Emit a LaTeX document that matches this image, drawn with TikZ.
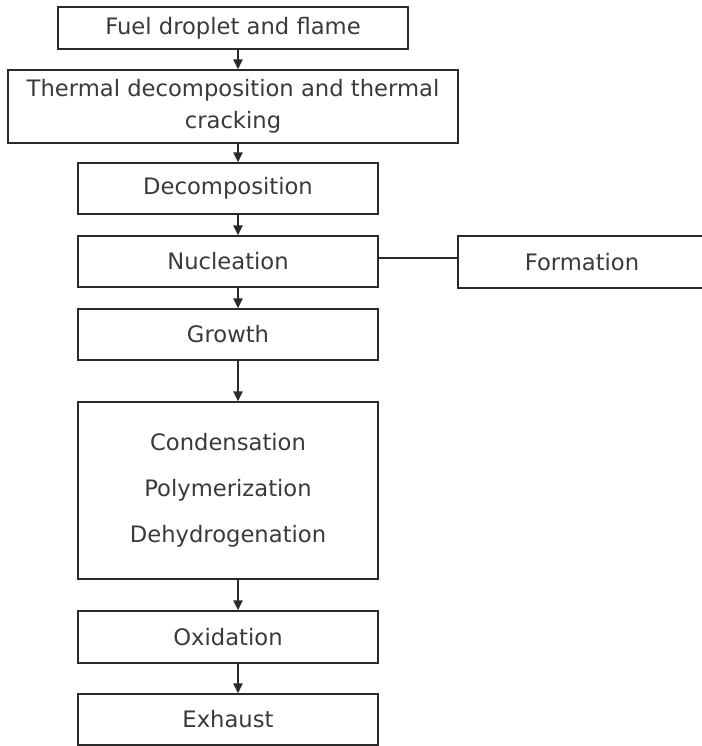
\documentclass[tikz,border=0pt]{standalone}
\usepackage{fontspec}
\setmainfont{DejaVu Sans}
\usetikzlibrary{arrows.meta}
\definecolor{linecol}{HTML}{2A2A2A}
\definecolor{txtcol}{HTML}{3A3A3A}
\begin{document}
\begin{tikzpicture}[x=0.75pt,y=-0.75pt,
  box/.style={draw=linecol, line width=1.1pt, rectangle, inner sep=0pt,
    text=txtcol, font=\fontsize{17}{24}\selectfont, align=center},
  arr/.style={draw=linecol, line width=1.1pt, -{Triangle[length=7.5pt,width=7pt]}},
  link/.style={draw=linecol, line width=1.1pt}
]
\useasboundingbox[fill=white] (0,0) rectangle (702,746);
\node[box, minimum width=262.5pt, minimum height=31.5pt] (b1) at (233,28) {Fuel droplet and flame};
\node[box, minimum width=337.5pt, minimum height=54.75pt] (b2) at (233,106.5) {Thermal decomposition and thermal\\cracking};
\node[box, minimum width=225pt, minimum height=38.25pt] (b3) at (228,188.5) {Decomposition};
\node[box, minimum width=225pt, minimum height=38.25pt] (b4) at (228,261.5) {Nucleation};
\node[box, minimum width=186pt, minimum height=39pt] (b5) at (582,262) {Formation};
\node[box, minimum width=225pt, minimum height=38.25pt] (b6) at (228,334.5) {Growth};
\node[box, minimum width=225pt, minimum height=132.75pt, font=\fontsize{17}{34.5}\selectfont] (b7) at (228,490.5) {Condensation\\Polymerization\\Dehydrogenation};
\node[box, minimum width=225pt, minimum height=39pt] (b8) at (228,637) {Oxidation};
\node[box, minimum width=225pt, minimum height=38.25pt] (b9) at (228,719.5) {Exhaust};
\coordinate (ax) at (238,0);
\draw[arr] (b1.south -| ax) -- (b2.north -| ax);
\draw[arr] (b2.south -| ax) -- (b3.north -| ax);
\draw[arr] (b3.south -| ax) -- (b4.north -| ax);
\draw[arr] (b4.south -| ax) -- (b6.north -| ax);
\draw[arr] (b6.south -| ax) -- (b7.north -| ax);
\draw[arr] (b7.south -| ax) -- (b8.north -| ax);
\draw[arr] (b8.south -| ax) -- (b9.north -| ax);
\coordinate (ly) at (0,258);
\draw[link] (b4.east |- ly) -- (b5.west |- ly);
\end{tikzpicture}
\end{document}
